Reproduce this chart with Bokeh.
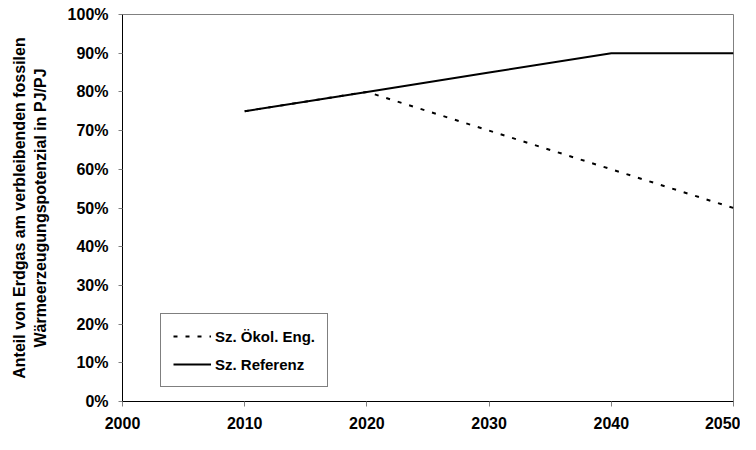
from bokeh.plotting import figure
from bokeh.models import Range1d, FixedTicker, PrintfTickFormatter, Legend, LegendItem
from bokeh.embed import file_html
from bokeh.resources import INLINE

years = [2010, 2020, 2030, 2040, 2050]
oekol = [75, 80, 70, 60, 50]
referenz = [75, 80, 85, 90, 90]
x_ticks = [2000, 2010, 2020, 2030, 2040, 2050]
y_ticks = [0, 10, 20, 30, 40, 50, 60, 70, 80, 90, 100]
names = ["Sz. Ökol. Eng.", "Sz. Referenz"]
y_title = "Anteil von Erdgas am verbleibenden fossilen\nWärmeerzeugungspotenzial in PJ/PJ"

FONT = "Liberation Sans"

p = figure(width=740, height=434, output_backend="svg", toolbar_location=None,
           x_range=Range1d(2000, 2050), y_range=Range1d(0, 100),
           min_border_left=122, min_border_right=7, min_border_top=14, min_border_bottom=33)
p.grid.visible = False
p.outline_line_color = "#808080"
p.outline_line_width = 1
p.background_fill_color = "white"
p.border_fill_color = "white"

for ax in (p.xaxis[0], p.yaxis[0]):
    ax.axis_line_color = "black"
    ax.axis_line_width = 1
    ax.major_tick_line_color = "#808080"
    ax.minor_tick_line_color = None
    ax.major_tick_in = 0
    ax.major_label_text_font = FONT
    ax.major_label_text_font_style = "bold"
    ax.major_label_text_font_size = "16px"
    ax.major_label_text_color = "black"

p.xaxis.ticker = FixedTicker(ticks=x_ticks)
p.xaxis.major_tick_out = 5
p.xaxis.major_label_standoff = 10

p.yaxis.ticker = FixedTicker(ticks=y_ticks)
p.yaxis.formatter = PrintfTickFormatter(format="%d%%")
p.yaxis.major_tick_out = 4
p.yaxis.major_label_standoff = 10
p.yaxis.axis_label = y_title
p.yaxis.axis_label_text_font = FONT
p.yaxis.axis_label_text_font_style = "bold"
p.yaxis.axis_label_text_font_size = "16px"
p.yaxis.axis_label_text_color = "black"
p.yaxis.axis_label_standoff = 16

r1 = p.line(years, oekol, line_color="black", line_width=2, line_dash="4 8")
r2 = p.line(years, referenz, line_color="black", line_width=2)

legend = Legend(items=[LegendItem(label=names[0], renderers=[r1]),
                       LegendItem(label=names[1], renderers=[r2])],
                location=(38, 14), padding=12, spacing=8, label_height=20,
                glyph_width=38, glyph_height=20, label_standoff=4,
                border_line_color="black", border_line_width=1,
                background_fill_color="white", background_fill_alpha=1,
                label_text_font=FONT, label_text_font_style="bold",
                label_text_font_size="15px", label_text_color="black",
                margin=0)
p.add_layout(legend, "center")

open("out.html", "w").write(file_html(p, INLINE))
